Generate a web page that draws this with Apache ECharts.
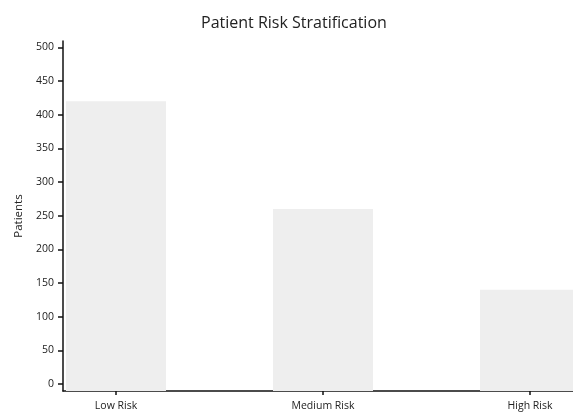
<!DOCTYPE html>
<html>
<head>
<meta charset="utf-8">
<script src="https://cdn.jsdelivr.net/npm/echarts@6/dist/echarts.min.js"></script>
<style>html,body{margin:0;padding:0;background:#fff}#c{width:573px;height:412px}</style>
</head>
<body>
<div id="c"></div>
<script>
var categories = ['Low Risk', 'Medium Risk', 'High Risk'];
var patients = [420, 260, 140];
var yTicks = [0, 50, 100, 150, 200, 250, 300, 350, 400, 450, 500];
var titleText = 'Patient Risk Stratification';
var yName = 'Patients';

var FONT = 'Open Sans';
var chart = echarts.init(document.getElementById('c'), null, {renderer: 'canvas'});
var catIdx = categories.map(function (c, i) { return i; });
chart.setOption({
  animation: false,
  backgroundColor: '#ffffff',
  title: {
    text: titleText, left: 196, top: 10,
    textStyle: {fontFamily: FONT, fontSize: 16, fontWeight: 'normal', color: '#222'}
  },
  grid: {left: 63, right: 0, top: 41, bottom: 21, containLabel: false},
  xAxis: {
    type: 'value', min: -0.256, max: 2.2077,
    splitLine: {show: false},
    axisLine: {show: true, onZero: false, lineStyle: {color: '#111', width: 1.5}},
    axisTick: {show: true, customValues: catIdx, length: 4, lineStyle: {color: '#111', width: 1.5}},
    axisLabel: {customValues: catIdx, fontFamily: FONT, fontSize: 10.5, color: '#222', margin: 10,
      formatter: function (v) { return categories[Math.round(v)]; }}
  },
  yAxis: {
    type: 'value', min: -10.4, max: 509.6, startValue: -10.4,
    name: yName, nameLocation: 'middle', nameGap: 38, nameRotate: 90,
    nameTextStyle: {fontFamily: FONT, fontSize: 11.5, color: '#222'},
    splitLine: {show: false},
    axisLine: {show: true, onZero: false, lineStyle: {color: '#111', width: 1.5}},
    axisTick: {show: true, customValues: yTicks, length: 5, lineStyle: {color: '#111', width: 1.5}},
    axisLabel: {customValues: yTicks, fontFamily: FONT, fontSize: 10.5, color: '#222', margin: 9}
  },
  series: [{
    type: 'bar',
    data: categories.map(function (c, i) { return [i, patients[i]]; }),
    barWidth: 100,
    itemStyle: {color: '#eeeeee'}
  }]
});
</script>
</body>
</html>
